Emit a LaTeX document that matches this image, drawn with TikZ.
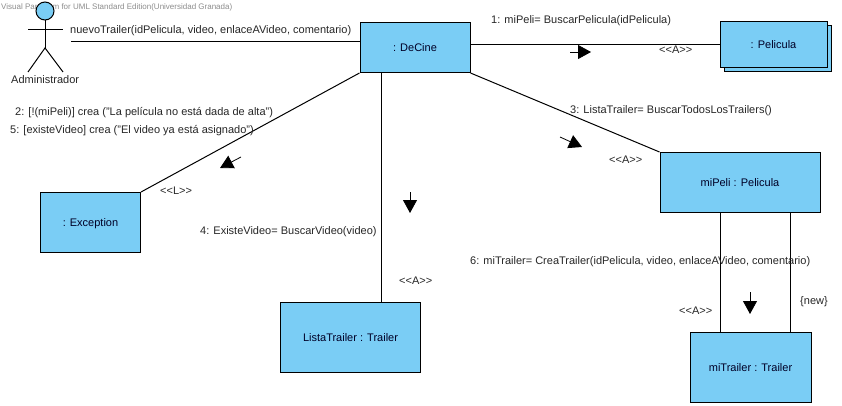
\documentclass[tikz,border=0pt]{standalone}
\usepackage{fontspec}
\setmainfont{Liberation Sans}
\usetikzlibrary{arrows.meta}
\definecolor{boxfill}{RGB}{122,205,245}
\tikzset{
  obj/.style={draw=black,fill=boxfill,line width=1pt,inner sep=0pt,font=\fontsize{11}{12}\selectfont,text=black!85!blue,text height=8pt,text depth=0pt},
  lab/.style={anchor=west,inner sep=0pt,font=\fontsize{11}{12}\selectfont,text=black!85,text height=8pt,text depth=0pt},
  link/.style={draw=black,line width=1pt},
  dirarrow/.style={draw=black,line width=0.8pt,-{Triangle[length=13pt,width=14pt]}}
}
\begin{document}
\begin{tikzpicture}[x=1pt,y=-1pt]
\useasboundingbox (0,0) rectangle (842,406);
\node[anchor=west,inner sep=0pt,text=black!45,font=\fontsize{8}{9}\selectfont] (wm) at (1,7) {Visual Paradigm for UML Standard Edition(Universidad Granada)};
% actor
\node[circle,draw=black,fill=boxfill,line width=1pt,minimum size=18pt,inner sep=0pt] (head) at (45,11) {};
\coordinate (hip) at (45,48);
\coordinate (armL) at (28,30);
\coordinate (armR) at (63,30);
\coordinate (legL) at (28,72);
\coordinate (legR) at (63,72);
\draw[link] (head.south) -- (hip);
\draw[link] (armL) -- (armR);
\draw[link] (legL) -- (hip) -- (legR);
\node[lab] (adm) at (11,80) {Administrador};
% objects
\node[obj,minimum width=107pt,minimum height=46pt] (pelShadow) at (777.5,49) {};
\node[obj,minimum width=107pt,minimum height=46pt] (pel) at (773.5,45) {: Pelicula};
\node[obj,minimum width=110pt,minimum height=50pt] (decine) at (415,47.5) {: DeCine};
\node[obj,minimum width=160pt,minimum height=60pt] (mipeli) at (740,182.5) {miPeli : Pelicula};
\node[obj,minimum width=100pt,minimum height=60pt] (exc) at (90.5,222.5) {: Exception};
\node[obj,minimum width=140pt,minimum height=70pt] (lista) at (350.5,337) {ListaTrailer : Trailer};
\node[obj,minimum width=121pt,minimum height=70pt] (mitr) at (750.5,367) {miTrailer : Trailer};
% connectors
\coordinate (actEnd) at (71,42);
\draw[link] (actEnd) -- (decine.west |- actEnd);
\draw[link] (decine.east |- pel.west) -- (pel.west);
\draw[link] (decine.south east) -- (mipeli.north west);
\draw[link] (decine.south west) -- (exc.north east);
\coordinate (lx) at (381,0);
\draw[link] (decine.south -| lx) -- (lista.north -| lx);
\coordinate (m1) at (720,0);
\coordinate (m2) at (790,0);
\draw[link] (mipeli.south -| m1) -- (mitr.north -| m1);
\draw[link] (mipeli.south -| m2) -- (mitr.north -| m2);
% direction arrows
\coordinate (a1s) at (570,52); \coordinate (a1e) at (591,52);
\coordinate (a3s) at (560,137); \coordinate (a3e) at (582,147);
\coordinate (aLs) at (241,157); \coordinate (aLe) at (220,168);
\coordinate (a4s) at (410,192); \coordinate (a4e) at (410,213);
\coordinate (a6s) at (750,292); \coordinate (a6e) at (750,314);
\draw[dirarrow] (a1s) -- (a1e);
\draw[dirarrow] (a3s) -- (a3e);
\draw[dirarrow] (aLs) -- (aLe);
\draw[dirarrow] (a4s) -- (a4e);
\draw[dirarrow] (a6s) -- (a6e);
% labels
\node[lab] (t0) at (70,30) {nuevoTrailer(idPelicula, video, enlaceAVideo, comentario)};
\node[lab] (t1) at (491,20) {1: miPeli= BuscarPelicula(idPelicula)};
\node[lab] (s1) at (659,50) {{<}{<}A{>}{>}};
\node[lab] (t3) at (570,110) {3: ListaTrailer= BuscarTodosLosTrailers()};
\node[lab] (s3) at (609,160) {{<}{<}A{>}{>}};
\node[lab] (t2) at (15,112) {2: [!(miPeli)] crea ("La película no está dada de alta")};
\node[lab] (t5) at (10,130) {5: [existeVideo] crea ("El video ya está asignado")};
\node[lab] (sL) at (160,190) {{<}{<}L{>}{>}};
\node[lab] (t4) at (200,230) {4: ExisteVideo= BuscarVideo(video)};
\node[lab] (s4) at (399,280) {{<}{<}A{>}{>}};
\node[lab] (t6) at (470,260) {6: miTrailer= CreaTrailer(idPelicula, video, enlaceAVideo, comentario)};
\node[lab] (s6) at (679,310) {{<}{<}A{>}{>}};
\node[lab] (new) at (800,300) {\{new\}};
\end{tikzpicture}
\end{document}
